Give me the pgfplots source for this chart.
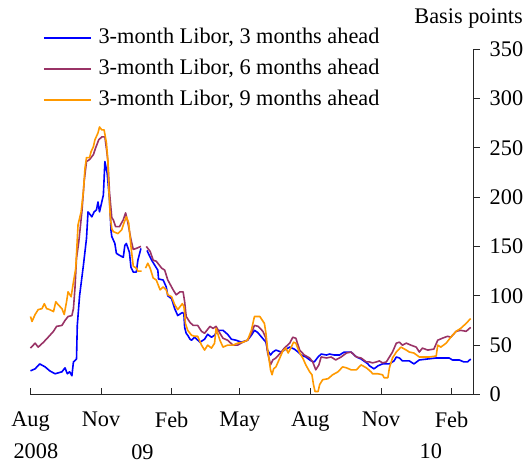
\documentclass[border=0pt]{standalone}
\usepackage{fontspec}
\setmainfont{Liberation Serif}
\usepackage{pgfplots}
\pgfplotsset{compat=1.18}
\definecolor{c3}{RGB}{0,0,255}
\definecolor{c6}{RGB}{153,51,102}
\definecolor{c9}{RGB}{255,153,0}
\newcommand{\bigfont}{\fontsize{22.3bp}{26bp}\selectfont}
\begin{document}
\begin{tikzpicture}
\begin{axis}[
  at={(0,0)}, anchor=south west,
  scale only axis, width=442.5bp, height=345.5bp,
  xmin=0, xmax=577, ymin=0, ymax=350,
  clip=false,
  axis x line*=bottom, axis y line*=right,
  axis line style={line width=0.8bp, black!85},
  xtick={0,92,184,273,365,457,549},
  xticklabels={Aug,Nov,Feb,May,Aug,Nov,Feb},
  ytick={0,50,...,350},
  tick align=inside,
  major tick length=6.5bp,
  tick style={line width=0.8bp, black!85},
  every y tick/.append style={xshift=6.5bp},
  yticklabel style={anchor=west, inner sep=0pt, xshift=16.5bp},
  xticklabel style={anchor=north, inner sep=0pt, yshift=-17bp},
  /pgf/number format/assume math mode=true,
  font=\bigfont,
  unbounded coords=jump,
  legend style={at={(0.0282,1.0623)}, anchor=north west, draw=none, fill=none,
    inner sep=0pt, outer sep=0pt, font=\bigfont,
    nodes={inner sep=0pt, text height=16bp, text depth=5bp},
    column sep=7bp, row sep=10bp},
  legend cell align=left,
  legend image code/.code={\draw[#1] (0bp,0bp) -- (47bp,0bp);},
  every axis plot/.append style={line width=1.6bp, line join=round},
]
\addplot[c3] coordinates {
(0,24) (6,26) (12,31) (19,28) (25,24) (32,21) (41,23) (45,27) (48,21) (51,23) (54,19) (56,33) (60,36) (61,70) (64,100) (69,131) (73,158) (75,185) (80,180) (83,185) (86,187) (88,195) (90,185) (95,202) (97,236) (100,224) (103,198) (105,166) (106,160) (110,153) (112,143) (116,141) (121,139) (123,151) (125,153) (129,144) (131,129) (134,124) (138,124) (140,136) (144,148) (147,nan) (152,146) (153,144) (158,136) (162,131) (166,126) (167,117) (173,116) (177,109) (179,100) (184,97) (188,87) (192,80) (198,83) (200,82) (201,68) (203,62) (205,60) (208,56) (210,55) (214,58) (221,53) (227,56) (231,61) (236,58) (240,60) (244,65) (251,65) (257,61) (262,56) (268,55) (275,53) (283,55) (288,60) (292,65) (296,63) (307,53) (309,45) (313,40) (316,43) (320,45) (327,43) (331,45) (338,48) (344,46) (349,43) (353,40) (359,38) (366,34) (370,33) (375,38) (379,41) (386,40) (390,41) (396,40) (403,40) (409,43) (418,43) (425,38) (431,36) (440,31) (442,29) (448,26) (453,29) (459,31) (468,31) (474,34) (477,38) (481,37) (485,34) (494,34) (500,31) (507,35) (518,36) (529,37) (546,37) (550,35) (559,35) (565,33) (570,33) (574,36)
};
\addlegendentry{3-month Libor, 3 months ahead}
\addplot[c6] coordinates {
(0,47) (6,52) (10,48) (17,53) (23,58) (30,64) (34,69) (41,70) (45,75) (49,79) (54,80) (56,87) (58,108) (60,138) (63,155) (67,185) (70,216) (73,236) (77,238) (82,243) (85,250) (89,258) (93,261) (97,261) (100,243) (101,235) (103,205) (106,179) (108,177) (111,170) (116,170) (121,177) (124,184) (127,174) (131,157) (134,147) (138,148) (144,150) (147,nan) (151,150) (156,145) (160,136) (164,135) (171,128) (175,126) (179,116) (186,106) (190,101) (195,104) (199,104) (201,94) (203,79) (208,73) (212,70) (218,70) (223,64) (227,62) (234,69) (238,67) (242,69) (247,62) (251,57) (257,55) (264,50) (270,50) (277,53) (283,55) (288,62) (292,70) (297,69) (303,64) (307,57) (309,43) (313,30) (316,35) (320,37) (327,43) (331,47) (338,52) (342,58) (346,57) (351,45) (357,40) (364,37) (368,33) (372,25) (376,30) (379,38) (386,37) (392,38) (398,35) (405,38) (412,42) (418,43) (425,38) (431,37) (438,33) (442,33) (446,32) (451,33) (455,34) (459,32) (464,33) (468,38) (472,43) (477,52) (481,53) (485,50) (490,52) (496,50) (503,48) (507,43) (511,47) (518,45) (526,46) (531,55) (537,57) (544,59) (548,58) (555,64) (561,65) (568,64) (574,68)
};
\addlegendentry{3-month Libor, 6 months ahead}
\addplot[c9] coordinates {
(0,79) (2,74) (6,81) (10,86) (15,87) (18,92) (21,87) (25,86) (30,84) (33,94) (36,91) (41,87) (44,81) (47,94) (49,104) (53,99) (56,114) (59,128) (62,172) (66,185) (69,206) (71,229) (73,240) (77,240) (79,246) (82,251) (84,258) (88,265) (90,271) (93,268) (96,268) (99,255) (101,236) (102,210) (104,180) (106,168) (108,165) (114,163) (119,167) (122,174) (125,180) (128,174) (131,150) (134,130) (138,128) (140,125) (145,125) (147,nan) (150,128) (153,133) (156,128) (160,118) (164,116) (169,106) (173,109) (177,106) (179,101) (184,99) (188,91) (192,86) (198,92) (200,89) (201,82) (202,72) (205,65) (210,60) (214,59) (218,59) (223,50) (227,45) (231,50) (236,47) (240,52) (242,67) (247,55) (251,48) (257,50) (264,50) (270,52) (277,53) (283,55) (288,65) (292,79) (299,79) (305,72) (307,62) (309,47) (313,25) (315,20) (317,26) (320,28) (324,35) (329,44) (333,47) (336,42) (340,48) (343,53) (346,52) (351,42) (355,37) (359,30) (364,23) (367,20) (369,10) (371,3) (375,3) (377,10) (381,15) (388,16) (394,20) (401,23) (407,28) (412,27) (418,25) (425,25) (431,30) (438,27) (444,23) (446,21) (453,21) (459,20) (461,17) (466,17) (468,27) (472,37) (477,43) (483,48) (490,45) (494,43) (500,42) (507,38) (520,38) (529,39) (531,50) (535,48) (542,52) (548,58) (555,64) (561,67) (568,72) (574,77)
};
\addlegendentry{3-month Libor, 9 months ahead}
\node[anchor=base, font=\bigfont, inner sep=0pt] at (axis cs:7,0) [yshift=-63.5bp] {2008};
\node[anchor=base, font=\bigfont, inner sep=0pt] at (axis cs:146,0) [yshift=-65bp] {09};
\node[anchor=base, font=\bigfont, inner sep=0pt] at (axis cs:522,0) [yshift=-63.5bp] {10};
\node[anchor=base east, font=\bigfont, inner sep=0pt] at (rel axis cs:1.113,1.0724) {Basis points};
\end{axis}
\pgfresetboundingbox
\path[use as bounding box] (-30.5bp,-68.5bp) rectangle (497.5bp,394.5bp);
\end{tikzpicture}
\end{document}
